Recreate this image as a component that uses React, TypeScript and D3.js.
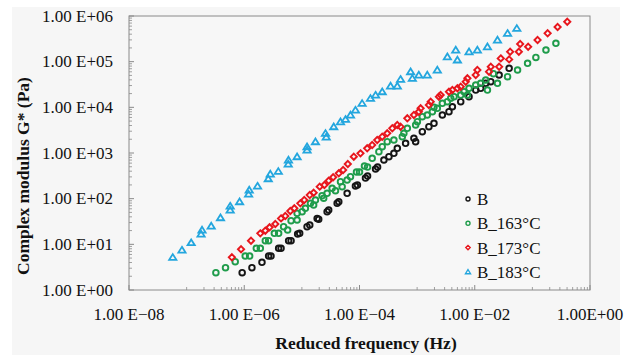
import React from 'react';
import * as d3 from 'd3';

const W = 629;
const H = 355;

const xTickValues = [1e-8, 1e-6, 1e-4, 1e-2, 1];
const xTickLabels = ['1.00 E\u221208', '1.00 E\u221206', '1.00 E\u221204', '1.00 E\u221202', '1.00E+00'];
const yTickValues = [1, 10, 100, 1e3, 1e4, 1e5, 1e6];
const yTickLabels = ['1.00 E+00', '1.00 E+01', '1.00 E+02', '1.00 E+03', '1.00 E+04', '1.00 E+05', '1.00 E+06'];

const seriesNames = ['B', 'B_163°C', 'B_173°C', 'B_183°C'];
const seriesColors = ['#151515', '#1f9c4b', '#e8161d', '#23a6de'];

// B (reference)
const freqB = [9.2e-7, 1.36e-6, 2.03e-6, 2.65e-6, 2.91e-6, 3.95e-6, 4.35e-6, 5.89e-6, 6.49e-6, 8.45e-6, 9.16e-6,
  1.23e-5, 1.37e-5, 1.84e-5, 1.96e-5, 2.74e-5, 2.92e-5, 4.09e-5, 4.37e-5, 6.1e-5, 8.5e-5, 9.2e-5, 1.27e-4, 1.38e-4,
  1.9e-4, 2.06e-4, 2.65e-4, 3.24e-4, 3.95e-4, 4.53e-4, 6.31e-4, 8.79e-4, 9.42e-4, 1.23e-3, 1.6e-3, 1.96e-3, 2.74e-3,
  3.57e-3, 4.09e-3, 5.71e-3, 7.96e-3, 1.04e-2, 1.27e-2, 1.55e-2, 1.9e-2, 2.65e-2, 3.95e-2];
const modB = [2.39, 3.08, 4.04, 5.55, 5.55, 8.2, 8.2, 12.0, 12.0, 16.8, 17.4,
  24.4, 26.5, 37, 35.3, 51.9, 56.5, 79, 85.8, 131, 189, 199, 283, 313,
  446, 493, 703, 830, 984, 1267, 1630, 2099, 1767, 2924, 3767, 4467, 6790,
  8020, 10300, 13280, 17100, 23900, 26100, 33500, 36400, 51000, 71500];

// B_163°C
const freq163 = [3.22e-7, 4.73e-7, 6.97e-7, 1.04e-6, 1.24e-6, 1.62e-6, 1.9e-6, 2.32e-6, 2.65e-6, 3.33e-6, 3.95e-6,
  4.82e-6, 5.66e-6, 6.49e-6, 8.26e-6, 8.26e-6, 1.01e-5, 1.15e-5, 1.41e-5, 1.6e-5, 1.72e-5, 2.24e-5, 2.39e-5, 2.74e-5,
  3.35e-5, 3.83e-5, 4.68e-5, 5.0e-5, 6.1e-5, 6.97e-5, 8.87e-5, 1.0e-4, 1.22e-4, 1.38e-4, 1.66e-4, 2.17e-4, 2.48e-4,
  3.03e-4, 3.95e-4, 5.53e-4, 5.89e-4, 6.76e-4, 9.42e-4, 1.01e-3, 1.23e-3, 1.5e-3, 1.84e-3, 1.96e-3, 2.24e-3, 2.74e-3,
  3.35e-3, 3.83e-3, 4.37e-3, 5.71e-3, 6.52e-3, 7.46e-3, 7.96e-3, 1.04e-2, 1.27e-2, 1.55e-2, 1.66e-2, 2.11e-2, 2.48e-2,
  3.71e-2, 5.53e-2, 8.26e-2, 0.115, 0.172, 0.256];
const mod163 = [2.39, 3.08, 4.17, 5.55, 5.55, 8.2, 8.2, 12.0, 12.0, 17.4, 17.4,
  24.4, 20.6, 33, 34.1, 47.8, 51.9, 61.5, 79, 72.6, 93.5, 116, 102, 131,
  169, 149, 235, 183, 256, 303, 384, 384, 519, 493, 765, 1067, 1374,
  1767, 1924, 2275, 2698, 3474, 4100, 4842, 6240, 6790, 8020, 10000, 9520, 12240,
  13280, 15750, 17100, 18600, 22000, 18600, 26100, 30800, 33500, 39600, 23900, 54500, 33500,
  46900, 65700, 92000, 124000, 180000, 252000];

// B_173°C
const freq173 = [6.1e-7, 8.8e-7, 1.31e-6, 1.9e-6, 2.32e-6, 2.75e-6, 3.46e-6, 4.35e-6, 5.16e-6, 6.3e-6, 7.4e-6,
  9.4e-6, 1.1e-5, 1.37e-5, 1.6e-5, 2.04e-5, 2.46e-5, 2.92e-5, 3.49e-5, 4.37e-5, 5.2e-5, 6.27e-5, 7.96e-5, 1.04e-4,
  1.36e-4, 1.66e-4, 2.03e-4, 2.48e-4, 3.03e-4, 3.71e-4, 4.53e-4, 5.16e-4, 6.76e-4, 8.79e-4, 1.07e-3, 1.15e-3, 1.6e-3,
  1.72e-3, 2.39e-3, 2.56e-3, 3.57e-3, 4.09e-3, 5.0e-3, 5.71e-3, 6.97e-3, 7.46e-3, 1.04e-2, 1.11e-2, 1.77e-2, 1.9e-2,
  2.65e-2, 2.83e-2, 3.95e-2, 4.11e-2, 5.82e-2, 6.14e-2, 8.45e-2, 0.123, 0.184, 0.274, 0.403];
const mod173 = [5.2, 7.8, 12.0, 17.4, 19.9, 23.6, 27.9, 37, 41.7, 53.7, 61.5,
  79, 93.5, 120, 135, 183, 199, 247, 294, 359, 424, 574, 830, 984,
  1267, 1496, 1924, 2275, 2698, 3474, 4100, 3767, 5750, 6790, 8020, 9520, 11240,
  13280, 17100, 18600, 22000, 23900, 26100, 28300, 36400, 43200, 51000, 65700, 60300, 77500,
  77500, 118000, 112000, 165000, 165000, 244000, 212000, 298000, 418000, 574000, 750000];

// B_183°C
const freq183 = [5.75e-8, 8.3e-8, 1.2e-7, 1.78e-7, 1.85e-7, 2.67e-7, 3.87e-7, 5.7e-7, 5.7e-7, 8.3e-7, 1.19e-6,
  1.22e-6, 1.7e-6, 2.61e-6, 2.83e-6, 3.9e-6, 5.8e-6, 5.85e-6, 8.26e-6, 1.23e-5, 1.23e-5, 1.72e-5, 2.57e-5, 2.65e-5,
  3.57e-5, 4.68e-5, 5.72e-5, 6.97e-5, 8.5e-5, 1.11e-4, 1.55e-4, 1.9e-4, 2.48e-4, 3.46e-4, 4.53e-4, 5.16e-4, 7.71e-4,
  8.26e-4, 1.07e-3, 1.5e-3, 2.24e-3, 3.35e-3, 5.0e-3, 4.68e-3, 7.96e-3, 1.11e-2, 1.66e-2, 2.48e-2, 3.71e-2, 5.37e-2];
const mod183 = [5.2, 7.5, 10.9, 16.8, 20.6, 25.2, 38.3, 56.5, 69, 85.8, 126,
  155, 189, 274, 347, 397, 574, 703, 830, 1163, 1374, 1767, 2698, 2239,
  3767, 4842, 5470, 6790, 8730, 12240, 15750, 18600, 22000, 29300, 29300, 41100, 60300,
  43200, 51000, 51000, 65700, 128000, 109000, 180000, 165000, 180000, 212000, 298000, 418000, 537000];

const seriesFreq = [freqB, freq163, freq173, freq183];
const seriesMod = [modB, mod163, mod173, mod183];
const seriesShape = ['circle', 'circle', 'diamond', 'triangle'];

const FONT = "'Liberation Serif', 'Times New Roman', Times, serif";

function Marker({ shape, x, y, color, s = 1 }: { shape: string; x: number; y: number; color: string; s?: number }) {
  if (shape === 'circle') {
    return <circle cx={x} cy={y} r={2.8 * s} fill="none" stroke={color} strokeWidth={1.9 * s} />;
  }
  if (shape === 'diamond') {
    const a = 3.1 * s;
    return <path d={`M${x},${y - a}L${x + a},${y}L${x},${y + a}L${x - a},${y}Z`} fill="none" stroke={color} strokeWidth={1.9 * s} />;
  }
  const h = 3.2 * s;
  const w = 3.6 * s;
  return <path d={`M${x},${y - h}L${x + w},${y + h * 0.8}L${x - w},${y + h * 0.8}Z`} fill="none" stroke={color} strokeWidth={1.8 * s} />;
}

export default function App() {
  const left = 129, right = 590, top = 16, bottom = 290;
  const x = d3.scaleLog().domain([1e-8, 1]).range([left, right]);
  const y = d3.scaleLog().domain([1, 1e6]).range([bottom, top]);

  const yMinor: number[] = [];
  for (let a = 0; a < 6; a++) for (let j = 2; j <= 9; j++) yMinor.push(j * Math.pow(10, a));
  const xMinor: number[] = [];
  for (let a = -8; a < 0; a += 2) for (let j = 1; j <= 9; j++) xMinor.push(j * Math.pow(10, a + 1));

  const axisColor = '#8a8a8a';
  const legendX = 468;
  const legendY0 = 199;
  const legendDy = 24.3;

  return (
    <svg width={W} height={H} viewBox={`0 0 ${W} ${H}`} style={{ display: 'block', fontFamily: FONT }}>
      <style>{`body{margin:0}`}</style>
      <rect x={0} y={0} width={W} height={H} fill="#ffffff" />
      <rect x={12} y={7} width={608} height={H - 7} fill="#f6f6f6" />
      <rect x={left} y={top} width={right - left} height={bottom - top} fill="#f7f7f7" stroke={axisColor} strokeWidth={1} />

      {yMinor.map((v, i) => (
        <line key={'ym' + i} x1={left} x2={left + 3} y1={y(v)} y2={y(v)} stroke={axisColor} strokeWidth={0.8} />
      ))}
      {yTickValues.map((v, i) => (
        <line key={'yM' + i} x1={left} x2={left + 5} y1={y(v)} y2={y(v)} stroke={axisColor} strokeWidth={1} />
      ))}
      {xMinor.map((v, i) => (
        <line key={'xm' + i} x1={x(v)} x2={x(v)} y1={bottom} y2={bottom - 3} stroke={axisColor} strokeWidth={0.8} />
      ))}
      {xTickValues.map((v, i) => (
        <line key={'xM' + i} x1={x(v)} x2={x(v)} y1={bottom} y2={bottom - 5} stroke={axisColor} strokeWidth={1} />
      ))}

      {yTickValues.map((v, i) => (
        <text key={'yl' + i} x={113} y={y(v)} dy="0.33em" textAnchor="end" fontSize={17} fill="#111" fontFamily={FONT}>{yTickLabels[i]}</text>
      ))}
      {xTickValues.map((v, i) => (
        <text key={'xl' + i} x={x(v)} y={320} textAnchor="middle" fontSize={17} fill="#111" fontFamily={FONT}>{xTickLabels[i]}</text>
      ))}

      <text x={366} y={349} textAnchor="middle" fontSize={17.5} fontWeight="bold" fill="#111" fontFamily={FONT}>Reduced frequency (Hz)</text>
      <text transform={`translate(29,176) rotate(-90)`} textAnchor="middle" fontSize={17.5} fontWeight="bold" fill="#111" fontFamily={FONT}>Complex modulus G* (Pa)</text>

      {seriesFreq.map((fs, si) => (
        <g key={'s' + si}>
          {fs.map((f, i) => (
            <Marker key={i} shape={seriesShape[si]} x={x(f)} y={y(seriesMod[si][i])} color={seriesColors[si]} />
          ))}
        </g>
      ))}

      {seriesNames.map((n, i) => (
        <g key={'lg' + i}>
          <Marker shape={seriesShape[i]} x={legendX} y={legendY0 + i * legendDy} color={seriesColors[i]} s={0.72} />
          <text x={legendX + 9} y={legendY0 + i * legendDy} dy="0.35em" fontSize={17} fill="#111" fontFamily={FONT}>{n}</text>
        </g>
      ))}
    </svg>
  );
}
